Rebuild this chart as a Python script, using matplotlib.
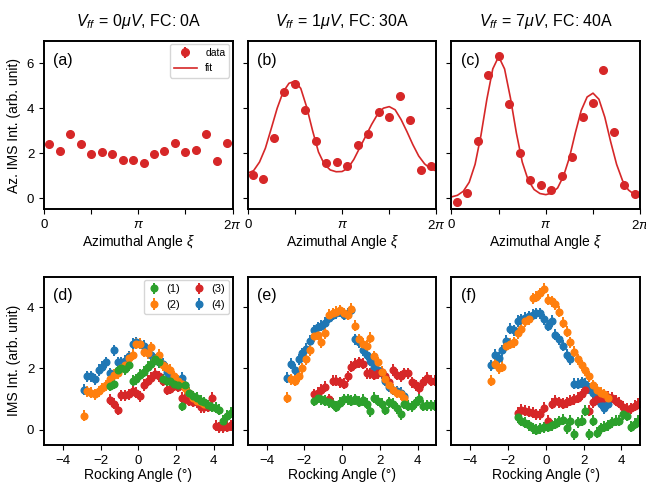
import numpy as np
import matplotlib.pyplot as plt
from matplotlib.lines import Line2D

plt.rcParams['font.family'] = ['Liberation Sans', 'DejaVu Sans']
plt.rcParams['mathtext.fontset'] = 'custom'
plt.rcParams['mathtext.rm'] = 'Liberation Sans'
plt.rcParams['mathtext.it'] = 'Liberation Sans:italic'
plt.rcParams['mathtext.bf'] = 'Liberation Sans:bold'
plt.rcParams['axes.linewidth'] = 1.4
plt.rcParams['xtick.labelsize'] = 9.5
plt.rcParams['ytick.labelsize'] = 9.5
plt.rcParams['axes.labelsize'] = 10

# --- azimuthal scans (top row), 18 bins over 0..2pi
n_bins = 18
xi_bins = (np.arange(n_bins) + 0.5) * 2 * np.pi / n_bins
az_a = [2.39, 2.10, 2.87, 2.39, 1.96, 2.03, 1.96, 1.70, 1.70,
        1.56, 1.97, 2.09, 2.44, 2.06, 2.15, 2.83, 1.67, 2.46]
az_b = [1.04, 0.84, 2.67, 4.74, 5.07, 3.93, 2.52, 1.56, 1.59,
        1.41, 2.34, 2.84, 3.85, 3.63, 4.56, 3.48, 1.26, 1.42]
az_c = [-0.19, 0.21, 2.55, 5.48, 6.34, 4.18, 2.00, 0.81, 0.56,
        0.37, 0.99, 1.82, 3.63, 4.21, 5.69, 2.96, 0.59, 0.19]
az_err = 0.1

xi_fit = np.arange(33) * np.pi / 16
fit_b = [1.11, 1.22, 1.6, 2.22, 3.1, 4.0, 4.72, 5.11, 5.2, 4.88, 4.05, 3.0, 2.05,
         1.5, 1.25, 1.17, 1.18, 1.33, 1.72, 2.24, 2.75, 3.27, 3.72, 4.0, 4.07,
         3.93, 3.5, 2.96, 2.38, 1.87, 1.52, 1.31, 1.2]
fit_c = [0.05, 0.12, 0.3, 0.7, 1.5, 2.8, 4.4, 5.75, 6.3, 5.75, 4.45, 2.9, 1.6,
         0.8, 0.38, 0.2, 0.15, 0.22, 0.45, 0.98, 1.8, 2.9, 3.9, 4.5, 4.67,
         4.4, 3.6, 2.5, 1.5, 0.78, 0.36, 0.16, 0.08]

titles = [r'$V_{ff}\,=\,0\mu V$, FC: 0A',
          r'$V_{ff}\,=\,1\mu V$, FC: 30A',
          r'$V_{ff}\,=\,7\mu V$, FC: 40A']

# --- rocking curves (bottom row)
rock_x_d = np.arange(-2.9, 3.6, 0.2)    # series (2), (4) in (d)
rock_x_ef = np.arange(-2.9, 3.4, 0.2)   # series (2), (4) in (e), (f)
rock_x_short = np.arange(-1.5, 5.0, 0.2)  # series (1), (3)
rock_err = 0.18

d1 = [1.43, 1.5, 1.95, 2.0, 1.98, 2.1, 1.6, 1.65, 1.8, 1.9, 2.05, 2.15, 2.3, 2.2,
      1.65, 1.6, 1.6, 1.5, 1.45, 0.78, 1.45, 1.2, 1.1, 1.05, 0.95, 0.9, 0.8, 0.75,
      0.72, 0.65, 0.3, 0.45, 0.55]
d2 = [0.46, 1.25, 1.2, 1.15, 1.25, 1.35, 1.45, 1.65, 1.8, 1.85, 2.0, 2.1, 2.35,
      2.45, 2.8, 2.8, 2.55, 2.5, 2.7, 2.3, 2.45, 2.1, 2.0, 1.95, 1.75, 1.6, 1.5,
      1.35, 1.2, 1.05, 0.95, 0.9, 0.85]
d3 = [0.98, 0.85, 0.65, 1.12, 1.13, 1.15, 1.27, 1.2, 1.1, 1.46, 1.6, 1.7, 1.82,
      1.75, 1.6, 1.3, 1.33, 1.43, 1.4, 1.05, 1.0, 0.95, 0.92, 0.89, 0.73, 0.73,
      0.75, 1.05, 0.13, 0.08, 0.08, 0.1, 0.15]
d4 = [1.3, 1.75, 1.75, 1.65, 1.95, 2.05, 2.2, 1.85, 2.6, 2.2, 2.2, 2.25, 2.4, 2.8,
      2.85, 2.8, 2.75, 2.6, 2.45, 2.3, 2.2, 2.15, 1.9, 1.8, 1.55, 1.45, 1.7, 1.45,
      1.2, 1.05, 0.95, 0.9, 0.8]

e1 = [0.95, 1.05, 1.0, 0.95, 0.9, 0.85, 0.75, 0.88, 1.0, 1.0, 0.95, 1.0, 0.92,
      0.97, 0.85, 0.6, 1.05, 0.95, 0.85, 0.65, 0.9, 0.85, 0.7, 0.5, 0.85, 0.78,
      0.76, 0.9, 1.0, 0.78, 0.8, 0.8, 0.78]
e2 = [1.05, 1.65, 1.6, 1.75, 2.0, 2.3, 2.6, 3.05, 3.1, 2.85, 3.15, 3.75, 3.8, 3.85,
      3.9, 3.8, 3.75, 3.95, 3.4, 2.95, 2.8, 2.75, 3.0, 2.4, 2.2, 1.9, 1.65, 1.45,
      1.3, 1.2, 1.15, 1.05]
e3 = [1.15, 1.2, 1.3, 1.4, 1.0, 1.6, 1.6, 1.55, 1.5, 1.75, 2.05, 2.15, 2.2, 2.15,
      1.85, 1.85, 1.8, 1.85, 1.9, 1.75, 1.55, 1.95, 1.8, 1.75, 1.85, 1.85, 1.55,
      1.45, 1.35, 1.55, 1.7, 1.6, 1.6]
e4 = [1.7, 2.15, 1.95, 2.3, 2.5, 2.65, 2.9, 3.25, 3.35, 3.4, 3.5, 3.65, 3.75, 3.8,
      3.85, 3.75, 3.8, 3.9, 2.95, 2.85, 2.6, 2.45, 2.25, 2.05, 1.95, 1.85, 1.6,
      1.4, 1.3, 1.25, 1.2, 1.1]

f1 = [0.4, 0.3, 0.22, 0.15, 0.05, 0.0, 0.05, 0.08, 0.1, 0.15, 0.2, 0.28, 0.32,
      0.05, 0.3, -0.15, 0.25, 0.3, 0.62, -0.15, 0.3, -0.1, 0.05, 0.1, 0.15, 0.25,
      0.3, 0.3, 0.5, 0.45, 0.1, 0.2, 0.3]
f2 = [1.6, 2.15, 2.0, 2.05, 2.75, 2.8, 2.85, 3.15, 3.3, 3.55, 3.6, 4.3, 4.35, 4.45,
      4.6, 4.25, 4.2, 4.1, 3.85, 3.5, 3.2, 2.85, 2.55, 2.3, 2.1, 1.95, 1.75, 1.45,
      1.3, 1.2, 1.15, 1.05]
f3 = [0.55, 0.65, 0.62, 0.58, 0.55, 0.5, 0.5, 0.72, 0.3, 0.85, 0.95, 0.9, 0.85,
      0.9, 0.95, 1.0, 1.05, 1.15, 1.3, 0.62, 0.9, 1.0, 1.05, 1.05, 1.08, 1.05,
      0.95, 0.88, 0.75, 0.68, 0.7, 0.78, 0.85]
f4 = [2.1, 2.45, 2.35, 2.6, 2.9, 3.3, 3.25, 3.55, 3.6, 3.65, 3.7, 3.75, 3.8, 3.8,
      3.6, 3.4, 3.55, 3.1, 2.95, 2.75, 2.45, 2.3, 1.5, 1.5, 1.55, 1.5, 1.35, 1.2,
      1.05, 0.85, 0.7, 0.85]

series_labels = ['(1)', '(2)', '(3)', '(4)']
series_colors = ['tab:green', 'tab:orange', 'tab:red', 'tab:blue']

fig, axes = plt.subplots(2, 3, figsize=(6.46, 4.92), dpi=100, sharey='row')
fig.subplots_adjust(left=0.068, right=0.991, top=0.917, bottom=0.0955,
                    wspace=0.08, hspace=0.40)

# top row
for i, (ax, vals, fit) in enumerate(zip(axes[0], [az_a, az_b, az_c], [None, fit_b, fit_c])):
    eb = ax.errorbar(xi_bins, vals, yerr=az_err, fmt='o', color='tab:red',
                     ms=5.5, elinewidth=1.5)
    if fit is not None:
        ax.plot(xi_fit, fit, color='tab:red', lw=1.2)
    ax.set_xlim(0, 2 * np.pi)
    ax.set_ylim(-0.5, 7)
    ax.set_xticks([0, np.pi / 2, np.pi, 3 * np.pi / 2, 2 * np.pi])
    ax.set_xticklabels(['0', '', r'$\pi$', '', r'$2\pi$'])
    ax.set_yticks([0, 2, 4, 6])
    ax.set_xlabel(r'Azimuthal Angle $\xi$', labelpad=1)
    ax.set_title(titles[i], fontsize=11.5, pad=11)
    ax.text(0.05, 0.93, '(' + 'abc'[i] + ')', transform=ax.transAxes,
            fontsize=11.5, va='top')
    if i == 0:
        fit_handle = Line2D([], [], color='tab:red', lw=1.2)
        ax.legend([eb, fit_handle], ['data', 'fit'], loc='upper right',
                  fontsize=7.5, borderaxespad=0.3, handlelength=2.2)
axes[0, 0].set_ylabel('Az. IMS Int. (arb. unit)')

# bottom row
panels = [
    (rock_x_d, [d1, d2, d3, d4]),
    (rock_x_ef, [e1, e2, e3, e4]),
    (rock_x_ef, [f1, f2, f3, f4]),
]
for i, (ax, (x_wide, ys)) in enumerate(zip(axes[1], panels)):
    xs = [rock_x_short, x_wide, rock_x_short, x_wide]
    handles = [None] * 4
    for j in [3, 2, 1, 0]:
        handles[j] = ax.errorbar(xs[j], ys[j], yerr=rock_err, fmt='o',
                                 color=series_colors[j], ms=4.8, elinewidth=1.4)
    ax.set_xlim(-5, 5)
    ax.set_ylim(-0.5, 5)
    ax.set_xticks([-4, -2, 0, 2, 4])
    ax.set_yticks([0, 2, 4])
    ax.set_xlabel('Rocking Angle (°)', labelpad=1)
    ax.text(0.05, 0.93, '(' + 'def'[i] + ')', transform=ax.transAxes,
            fontsize=11.5, va='top')
    if i == 0:
        ax.legend(handles, series_labels, ncol=2, loc='upper right',
                  fontsize=8, borderaxespad=0.3, handlelength=1.0,
                  handletextpad=0.6, columnspacing=1.2)
axes[1, 0].set_ylabel('IMS Int. (arb. unit)')

fig.savefig('out.png', dpi=100)
